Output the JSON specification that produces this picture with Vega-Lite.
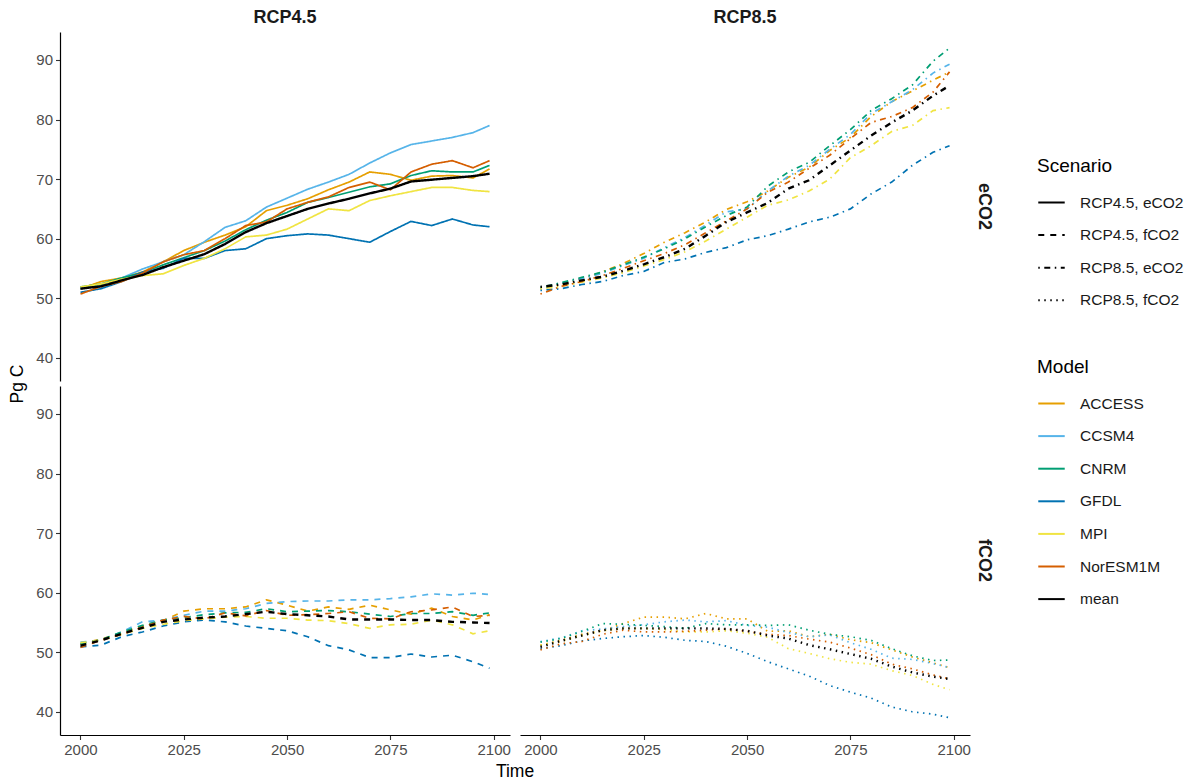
{
"$schema":"https://vega.github.io/schema/vega-lite/v6.json",
"background":"white",
"padding":{"left":8,"top":9,"right":5,"bottom":0},
"data":{"values":[
{"m":"ACCESS","r":"RCP4.5","c":"eCO2","t":2000,"v":51.6},{"m":"ACCESS","r":"RCP4.5","c":"eCO2","t":2005,"v":52.8},{"m":"ACCESS","r":"RCP4.5","c":"eCO2","t":2010,"v":53.4},{"m":"ACCESS","r":"RCP4.5","c":"eCO2","t":2015,"v":54.4},{"m":"ACCESS","r":"RCP4.5","c":"eCO2","t":2020,"v":56.1},{"m":"ACCESS","r":"RCP4.5","c":"eCO2","t":2025,"v":58.0},{"m":"ACCESS","r":"RCP4.5","c":"eCO2","t":2030,"v":59.4},{"m":"ACCESS","r":"RCP4.5","c":"eCO2","t":2035,"v":60.6},{"m":"ACCESS","r":"RCP4.5","c":"eCO2","t":2040,"v":62.0},{"m":"ACCESS","r":"RCP4.5","c":"eCO2","t":2045,"v":64.7},{"m":"ACCESS","r":"RCP4.5","c":"eCO2","t":2050,"v":65.6},{"m":"ACCESS","r":"RCP4.5","c":"eCO2","t":2055,"v":66.7},{"m":"ACCESS","r":"RCP4.5","c":"eCO2","t":2060,"v":68.2},{"m":"ACCESS","r":"RCP4.5","c":"eCO2","t":2065,"v":69.5},{"m":"ACCESS","r":"RCP4.5","c":"eCO2","t":2070,"v":71.2},{"m":"ACCESS","r":"RCP4.5","c":"eCO2","t":2075,"v":70.8},{"m":"ACCESS","r":"RCP4.5","c":"eCO2","t":2080,"v":69.8},{"m":"ACCESS","r":"RCP4.5","c":"eCO2","t":2085,"v":70.5},{"m":"ACCESS","r":"RCP4.5","c":"eCO2","t":2090,"v":70.6},{"m":"ACCESS","r":"RCP4.5","c":"eCO2","t":2095,"v":70.2},{"m":"ACCESS","r":"RCP4.5","c":"eCO2","t":2099,"v":71.7},
{"m":"CCSM4","r":"RCP4.5","c":"eCO2","t":2000,"v":51.6},{"m":"CCSM4","r":"RCP4.5","c":"eCO2","t":2005,"v":52.3},{"m":"CCSM4","r":"RCP4.5","c":"eCO2","t":2010,"v":53.4},{"m":"CCSM4","r":"RCP4.5","c":"eCO2","t":2015,"v":54.9},{"m":"CCSM4","r":"RCP4.5","c":"eCO2","t":2020,"v":56.1},{"m":"CCSM4","r":"RCP4.5","c":"eCO2","t":2025,"v":57.3},{"m":"CCSM4","r":"RCP4.5","c":"eCO2","t":2030,"v":59.5},{"m":"CCSM4","r":"RCP4.5","c":"eCO2","t":2035,"v":61.9},{"m":"CCSM4","r":"RCP4.5","c":"eCO2","t":2040,"v":63.0},{"m":"CCSM4","r":"RCP4.5","c":"eCO2","t":2045,"v":65.3},{"m":"CCSM4","r":"RCP4.5","c":"eCO2","t":2050,"v":66.8},{"m":"CCSM4","r":"RCP4.5","c":"eCO2","t":2055,"v":68.3},{"m":"CCSM4","r":"RCP4.5","c":"eCO2","t":2060,"v":69.5},{"m":"CCSM4","r":"RCP4.5","c":"eCO2","t":2065,"v":70.8},{"m":"CCSM4","r":"RCP4.5","c":"eCO2","t":2070,"v":72.7},{"m":"CCSM4","r":"RCP4.5","c":"eCO2","t":2075,"v":74.4},{"m":"CCSM4","r":"RCP4.5","c":"eCO2","t":2080,"v":75.8},{"m":"CCSM4","r":"RCP4.5","c":"eCO2","t":2085,"v":76.4},{"m":"CCSM4","r":"RCP4.5","c":"eCO2","t":2090,"v":77.0},{"m":"CCSM4","r":"RCP4.5","c":"eCO2","t":2095,"v":77.8},{"m":"CCSM4","r":"RCP4.5","c":"eCO2","t":2099,"v":79.0},
{"m":"CNRM","r":"RCP4.5","c":"eCO2","t":2000,"v":51.9},{"m":"CNRM","r":"RCP4.5","c":"eCO2","t":2005,"v":52.4},{"m":"CNRM","r":"RCP4.5","c":"eCO2","t":2010,"v":53.4},{"m":"CNRM","r":"RCP4.5","c":"eCO2","t":2015,"v":54.3},{"m":"CNRM","r":"RCP4.5","c":"eCO2","t":2020,"v":55.6},{"m":"CNRM","r":"RCP4.5","c":"eCO2","t":2025,"v":56.8},{"m":"CNRM","r":"RCP4.5","c":"eCO2","t":2030,"v":58.0},{"m":"CNRM","r":"RCP4.5","c":"eCO2","t":2035,"v":59.6},{"m":"CNRM","r":"RCP4.5","c":"eCO2","t":2040,"v":61.5},{"m":"CNRM","r":"RCP4.5","c":"eCO2","t":2045,"v":63.1},{"m":"CNRM","r":"RCP4.5","c":"eCO2","t":2050,"v":64.4},{"m":"CNRM","r":"RCP4.5","c":"eCO2","t":2055,"v":66.1},{"m":"CNRM","r":"RCP4.5","c":"eCO2","t":2060,"v":66.9},{"m":"CNRM","r":"RCP4.5","c":"eCO2","t":2065,"v":67.8},{"m":"CNRM","r":"RCP4.5","c":"eCO2","t":2070,"v":68.7},{"m":"CNRM","r":"RCP4.5","c":"eCO2","t":2075,"v":69.2},{"m":"CNRM","r":"RCP4.5","c":"eCO2","t":2080,"v":70.6},{"m":"CNRM","r":"RCP4.5","c":"eCO2","t":2085,"v":71.4},{"m":"CNRM","r":"RCP4.5","c":"eCO2","t":2090,"v":71.2},{"m":"CNRM","r":"RCP4.5","c":"eCO2","t":2095,"v":71.2},{"m":"CNRM","r":"RCP4.5","c":"eCO2","t":2099,"v":72.3},
{"m":"GFDL","r":"RCP4.5","c":"eCO2","t":2000,"v":51.0},{"m":"GFDL","r":"RCP4.5","c":"eCO2","t":2005,"v":51.6},{"m":"GFDL","r":"RCP4.5","c":"eCO2","t":2010,"v":52.8},{"m":"GFDL","r":"RCP4.5","c":"eCO2","t":2015,"v":54.4},{"m":"GFDL","r":"RCP4.5","c":"eCO2","t":2020,"v":55.0},{"m":"GFDL","r":"RCP4.5","c":"eCO2","t":2025,"v":56.7},{"m":"GFDL","r":"RCP4.5","c":"eCO2","t":2030,"v":56.7},{"m":"GFDL","r":"RCP4.5","c":"eCO2","t":2035,"v":58.0},{"m":"GFDL","r":"RCP4.5","c":"eCO2","t":2040,"v":58.3},{"m":"GFDL","r":"RCP4.5","c":"eCO2","t":2045,"v":60.0},{"m":"GFDL","r":"RCP4.5","c":"eCO2","t":2050,"v":60.5},{"m":"GFDL","r":"RCP4.5","c":"eCO2","t":2055,"v":60.8},{"m":"GFDL","r":"RCP4.5","c":"eCO2","t":2060,"v":60.6},{"m":"GFDL","r":"RCP4.5","c":"eCO2","t":2065,"v":60.0},{"m":"GFDL","r":"RCP4.5","c":"eCO2","t":2070,"v":59.4},{"m":"GFDL","r":"RCP4.5","c":"eCO2","t":2075,"v":61.2},{"m":"GFDL","r":"RCP4.5","c":"eCO2","t":2080,"v":62.9},{"m":"GFDL","r":"RCP4.5","c":"eCO2","t":2085,"v":62.2},{"m":"GFDL","r":"RCP4.5","c":"eCO2","t":2090,"v":63.3},{"m":"GFDL","r":"RCP4.5","c":"eCO2","t":2095,"v":62.3},{"m":"GFDL","r":"RCP4.5","c":"eCO2","t":2099,"v":62.0},
{"m":"MPI","r":"RCP4.5","c":"eCO2","t":2000,"v":51.9},{"m":"MPI","r":"RCP4.5","c":"eCO2","t":2005,"v":52.4},{"m":"MPI","r":"RCP4.5","c":"eCO2","t":2010,"v":53.2},{"m":"MPI","r":"RCP4.5","c":"eCO2","t":2015,"v":53.8},{"m":"MPI","r":"RCP4.5","c":"eCO2","t":2020,"v":54.1},{"m":"MPI","r":"RCP4.5","c":"eCO2","t":2025,"v":55.5},{"m":"MPI","r":"RCP4.5","c":"eCO2","t":2030,"v":56.7},{"m":"MPI","r":"RCP4.5","c":"eCO2","t":2035,"v":58.3},{"m":"MPI","r":"RCP4.5","c":"eCO2","t":2040,"v":60.3},{"m":"MPI","r":"RCP4.5","c":"eCO2","t":2045,"v":60.6},{"m":"MPI","r":"RCP4.5","c":"eCO2","t":2050,"v":61.6},{"m":"MPI","r":"RCP4.5","c":"eCO2","t":2055,"v":63.3},{"m":"MPI","r":"RCP4.5","c":"eCO2","t":2060,"v":65.0},{"m":"MPI","r":"RCP4.5","c":"eCO2","t":2065,"v":64.7},{"m":"MPI","r":"RCP4.5","c":"eCO2","t":2070,"v":66.4},{"m":"MPI","r":"RCP4.5","c":"eCO2","t":2075,"v":67.2},{"m":"MPI","r":"RCP4.5","c":"eCO2","t":2080,"v":67.9},{"m":"MPI","r":"RCP4.5","c":"eCO2","t":2085,"v":68.6},{"m":"MPI","r":"RCP4.5","c":"eCO2","t":2090,"v":68.6},{"m":"MPI","r":"RCP4.5","c":"eCO2","t":2095,"v":68.1},{"m":"MPI","r":"RCP4.5","c":"eCO2","t":2099,"v":67.9},
{"m":"NorESM1M","r":"RCP4.5","c":"eCO2","t":2000,"v":50.7},{"m":"NorESM1M","r":"RCP4.5","c":"eCO2","t":2005,"v":52.0},{"m":"NorESM1M","r":"RCP4.5","c":"eCO2","t":2010,"v":52.8},{"m":"NorESM1M","r":"RCP4.5","c":"eCO2","t":2015,"v":54.2},{"m":"NorESM1M","r":"RCP4.5","c":"eCO2","t":2020,"v":56.1},{"m":"NorESM1M","r":"RCP4.5","c":"eCO2","t":2025,"v":57.3},{"m":"NorESM1M","r":"RCP4.5","c":"eCO2","t":2030,"v":58.0},{"m":"NorESM1M","r":"RCP4.5","c":"eCO2","t":2035,"v":60.0},{"m":"NorESM1M","r":"RCP4.5","c":"eCO2","t":2040,"v":62.2},{"m":"NorESM1M","r":"RCP4.5","c":"eCO2","t":2045,"v":62.8},{"m":"NorESM1M","r":"RCP4.5","c":"eCO2","t":2050,"v":65.0},{"m":"NorESM1M","r":"RCP4.5","c":"eCO2","t":2055,"v":66.1},{"m":"NorESM1M","r":"RCP4.5","c":"eCO2","t":2060,"v":67.0},{"m":"NorESM1M","r":"RCP4.5","c":"eCO2","t":2065,"v":68.6},{"m":"NorESM1M","r":"RCP4.5","c":"eCO2","t":2070,"v":69.5},{"m":"NorESM1M","r":"RCP4.5","c":"eCO2","t":2075,"v":68.2},{"m":"NorESM1M","r":"RCP4.5","c":"eCO2","t":2080,"v":71.2},{"m":"NorESM1M","r":"RCP4.5","c":"eCO2","t":2085,"v":72.5},{"m":"NorESM1M","r":"RCP4.5","c":"eCO2","t":2090,"v":73.1},{"m":"NorESM1M","r":"RCP4.5","c":"eCO2","t":2095,"v":71.9},{"m":"NorESM1M","r":"RCP4.5","c":"eCO2","t":2099,"v":73.1},
{"m":"mean","r":"RCP4.5","c":"eCO2","t":2000,"v":51.6},{"m":"mean","r":"RCP4.5","c":"eCO2","t":2005,"v":52.0},{"m":"mean","r":"RCP4.5","c":"eCO2","t":2010,"v":53.0},{"m":"mean","r":"RCP4.5","c":"eCO2","t":2015,"v":53.9},{"m":"mean","r":"RCP4.5","c":"eCO2","t":2020,"v":55.2},{"m":"mean","r":"RCP4.5","c":"eCO2","t":2025,"v":56.3},{"m":"mean","r":"RCP4.5","c":"eCO2","t":2030,"v":57.4},{"m":"mean","r":"RCP4.5","c":"eCO2","t":2035,"v":59.1},{"m":"mean","r":"RCP4.5","c":"eCO2","t":2040,"v":61.1},{"m":"mean","r":"RCP4.5","c":"eCO2","t":2045,"v":62.6},{"m":"mean","r":"RCP4.5","c":"eCO2","t":2050,"v":63.8},{"m":"mean","r":"RCP4.5","c":"eCO2","t":2055,"v":65.0},{"m":"mean","r":"RCP4.5","c":"eCO2","t":2060,"v":65.9},{"m":"mean","r":"RCP4.5","c":"eCO2","t":2065,"v":66.7},{"m":"mean","r":"RCP4.5","c":"eCO2","t":2070,"v":67.6},{"m":"mean","r":"RCP4.5","c":"eCO2","t":2075,"v":68.4},{"m":"mean","r":"RCP4.5","c":"eCO2","t":2080,"v":69.6},{"m":"mean","r":"RCP4.5","c":"eCO2","t":2085,"v":69.9},{"m":"mean","r":"RCP4.5","c":"eCO2","t":2090,"v":70.2},{"m":"mean","r":"RCP4.5","c":"eCO2","t":2095,"v":70.5},{"m":"mean","r":"RCP4.5","c":"eCO2","t":2099,"v":70.9},
{"m":"ACCESS","r":"RCP8.5","c":"eCO2","t":2000,"v":51.5},{"m":"ACCESS","r":"RCP8.5","c":"eCO2","t":2005,"v":52.4},{"m":"ACCESS","r":"RCP8.5","c":"eCO2","t":2010,"v":53.3},{"m":"ACCESS","r":"RCP8.5","c":"eCO2","t":2015,"v":54.4},{"m":"ACCESS","r":"RCP8.5","c":"eCO2","t":2020,"v":55.8},{"m":"ACCESS","r":"RCP8.5","c":"eCO2","t":2025,"v":57.5},{"m":"ACCESS","r":"RCP8.5","c":"eCO2","t":2030,"v":59.4},{"m":"ACCESS","r":"RCP8.5","c":"eCO2","t":2035,"v":61.0},{"m":"ACCESS","r":"RCP8.5","c":"eCO2","t":2040,"v":62.8},{"m":"ACCESS","r":"RCP8.5","c":"eCO2","t":2045,"v":64.9},{"m":"ACCESS","r":"RCP8.5","c":"eCO2","t":2050,"v":66.2},{"m":"ACCESS","r":"RCP8.5","c":"eCO2","t":2055,"v":68.0},{"m":"ACCESS","r":"RCP8.5","c":"eCO2","t":2060,"v":70.3},{"m":"ACCESS","r":"RCP8.5","c":"eCO2","t":2065,"v":72.0},{"m":"ACCESS","r":"RCP8.5","c":"eCO2","t":2070,"v":74.8},{"m":"ACCESS","r":"RCP8.5","c":"eCO2","t":2075,"v":77.0},{"m":"ACCESS","r":"RCP8.5","c":"eCO2","t":2080,"v":80.5},{"m":"ACCESS","r":"RCP8.5","c":"eCO2","t":2085,"v":83.0},{"m":"ACCESS","r":"RCP8.5","c":"eCO2","t":2090,"v":84.8},{"m":"ACCESS","r":"RCP8.5","c":"eCO2","t":2095,"v":86.6},{"m":"ACCESS","r":"RCP8.5","c":"eCO2","t":2099,"v":88.0},
{"m":"CCSM4","r":"RCP8.5","c":"eCO2","t":2000,"v":51.6},{"m":"CCSM4","r":"RCP8.5","c":"eCO2","t":2005,"v":52.5},{"m":"CCSM4","r":"RCP8.5","c":"eCO2","t":2010,"v":53.3},{"m":"CCSM4","r":"RCP8.5","c":"eCO2","t":2015,"v":54.2},{"m":"CCSM4","r":"RCP8.5","c":"eCO2","t":2020,"v":55.5},{"m":"CCSM4","r":"RCP8.5","c":"eCO2","t":2025,"v":56.7},{"m":"CCSM4","r":"RCP8.5","c":"eCO2","t":2030,"v":58.5},{"m":"CCSM4","r":"RCP8.5","c":"eCO2","t":2035,"v":60.2},{"m":"CCSM4","r":"RCP8.5","c":"eCO2","t":2040,"v":62.3},{"m":"CCSM4","r":"RCP8.5","c":"eCO2","t":2045,"v":64.5},{"m":"CCSM4","r":"RCP8.5","c":"eCO2","t":2050,"v":65.0},{"m":"CCSM4","r":"RCP8.5","c":"eCO2","t":2055,"v":68.0},{"m":"CCSM4","r":"RCP8.5","c":"eCO2","t":2060,"v":70.5},{"m":"CCSM4","r":"RCP8.5","c":"eCO2","t":2065,"v":72.3},{"m":"CCSM4","r":"RCP8.5","c":"eCO2","t":2070,"v":75.0},{"m":"CCSM4","r":"RCP8.5","c":"eCO2","t":2075,"v":77.5},{"m":"CCSM4","r":"RCP8.5","c":"eCO2","t":2080,"v":81.0},{"m":"CCSM4","r":"RCP8.5","c":"eCO2","t":2085,"v":83.0},{"m":"CCSM4","r":"RCP8.5","c":"eCO2","t":2090,"v":85.0},{"m":"CCSM4","r":"RCP8.5","c":"eCO2","t":2095,"v":87.8},{"m":"CCSM4","r":"RCP8.5","c":"eCO2","t":2099,"v":89.3},
{"m":"CNRM","r":"RCP8.5","c":"eCO2","t":2000,"v":51.8},{"m":"CNRM","r":"RCP8.5","c":"eCO2","t":2005,"v":52.6},{"m":"CNRM","r":"RCP8.5","c":"eCO2","t":2010,"v":53.5},{"m":"CNRM","r":"RCP8.5","c":"eCO2","t":2015,"v":54.4},{"m":"CNRM","r":"RCP8.5","c":"eCO2","t":2020,"v":55.6},{"m":"CNRM","r":"RCP8.5","c":"eCO2","t":2025,"v":56.9},{"m":"CNRM","r":"RCP8.5","c":"eCO2","t":2030,"v":58.3},{"m":"CNRM","r":"RCP8.5","c":"eCO2","t":2035,"v":60.0},{"m":"CNRM","r":"RCP8.5","c":"eCO2","t":2040,"v":62.0},{"m":"CNRM","r":"RCP8.5","c":"eCO2","t":2045,"v":63.9},{"m":"CNRM","r":"RCP8.5","c":"eCO2","t":2050,"v":65.3},{"m":"CNRM","r":"RCP8.5","c":"eCO2","t":2055,"v":68.8},{"m":"CNRM","r":"RCP8.5","c":"eCO2","t":2060,"v":71.2},{"m":"CNRM","r":"RCP8.5","c":"eCO2","t":2065,"v":72.8},{"m":"CNRM","r":"RCP8.5","c":"eCO2","t":2070,"v":75.6},{"m":"CNRM","r":"RCP8.5","c":"eCO2","t":2075,"v":78.3},{"m":"CNRM","r":"RCP8.5","c":"eCO2","t":2080,"v":81.5},{"m":"CNRM","r":"RCP8.5","c":"eCO2","t":2085,"v":83.5},{"m":"CNRM","r":"RCP8.5","c":"eCO2","t":2090,"v":85.8},{"m":"CNRM","r":"RCP8.5","c":"eCO2","t":2095,"v":89.8},{"m":"CNRM","r":"RCP8.5","c":"eCO2","t":2099,"v":92.0},
{"m":"GFDL","r":"RCP8.5","c":"eCO2","t":2000,"v":51.3},{"m":"GFDL","r":"RCP8.5","c":"eCO2","t":2005,"v":51.6},{"m":"GFDL","r":"RCP8.5","c":"eCO2","t":2010,"v":52.3},{"m":"GFDL","r":"RCP8.5","c":"eCO2","t":2015,"v":52.8},{"m":"GFDL","r":"RCP8.5","c":"eCO2","t":2020,"v":53.8},{"m":"GFDL","r":"RCP8.5","c":"eCO2","t":2025,"v":54.5},{"m":"GFDL","r":"RCP8.5","c":"eCO2","t":2030,"v":56.0},{"m":"GFDL","r":"RCP8.5","c":"eCO2","t":2035,"v":56.6},{"m":"GFDL","r":"RCP8.5","c":"eCO2","t":2040,"v":57.7},{"m":"GFDL","r":"RCP8.5","c":"eCO2","t":2045,"v":58.5},{"m":"GFDL","r":"RCP8.5","c":"eCO2","t":2050,"v":59.8},{"m":"GFDL","r":"RCP8.5","c":"eCO2","t":2055,"v":60.5},{"m":"GFDL","r":"RCP8.5","c":"eCO2","t":2060,"v":61.6},{"m":"GFDL","r":"RCP8.5","c":"eCO2","t":2065,"v":62.8},{"m":"GFDL","r":"RCP8.5","c":"eCO2","t":2070,"v":63.6},{"m":"GFDL","r":"RCP8.5","c":"eCO2","t":2075,"v":65.0},{"m":"GFDL","r":"RCP8.5","c":"eCO2","t":2080,"v":67.5},{"m":"GFDL","r":"RCP8.5","c":"eCO2","t":2085,"v":69.5},{"m":"GFDL","r":"RCP8.5","c":"eCO2","t":2090,"v":72.3},{"m":"GFDL","r":"RCP8.5","c":"eCO2","t":2095,"v":74.5},{"m":"GFDL","r":"RCP8.5","c":"eCO2","t":2099,"v":75.6},
{"m":"MPI","r":"RCP8.5","c":"eCO2","t":2000,"v":51.6},{"m":"MPI","r":"RCP8.5","c":"eCO2","t":2005,"v":52.0},{"m":"MPI","r":"RCP8.5","c":"eCO2","t":2010,"v":52.7},{"m":"MPI","r":"RCP8.5","c":"eCO2","t":2015,"v":53.4},{"m":"MPI","r":"RCP8.5","c":"eCO2","t":2020,"v":54.3},{"m":"MPI","r":"RCP8.5","c":"eCO2","t":2025,"v":55.4},{"m":"MPI","r":"RCP8.5","c":"eCO2","t":2030,"v":56.5},{"m":"MPI","r":"RCP8.5","c":"eCO2","t":2035,"v":57.8},{"m":"MPI","r":"RCP8.5","c":"eCO2","t":2040,"v":59.6},{"m":"MPI","r":"RCP8.5","c":"eCO2","t":2045,"v":61.6},{"m":"MPI","r":"RCP8.5","c":"eCO2","t":2050,"v":63.6},{"m":"MPI","r":"RCP8.5","c":"eCO2","t":2055,"v":65.6},{"m":"MPI","r":"RCP8.5","c":"eCO2","t":2060,"v":66.5},{"m":"MPI","r":"RCP8.5","c":"eCO2","t":2065,"v":68.0},{"m":"MPI","r":"RCP8.5","c":"eCO2","t":2070,"v":70.0},{"m":"MPI","r":"RCP8.5","c":"eCO2","t":2075,"v":73.6},{"m":"MPI","r":"RCP8.5","c":"eCO2","t":2080,"v":75.6},{"m":"MPI","r":"RCP8.5","c":"eCO2","t":2085,"v":78.0},{"m":"MPI","r":"RCP8.5","c":"eCO2","t":2090,"v":79.0},{"m":"MPI","r":"RCP8.5","c":"eCO2","t":2095,"v":81.5},{"m":"MPI","r":"RCP8.5","c":"eCO2","t":2099,"v":82.0},
{"m":"NorESM1M","r":"RCP8.5","c":"eCO2","t":2000,"v":50.7},{"m":"NorESM1M","r":"RCP8.5","c":"eCO2","t":2005,"v":52.0},{"m":"NorESM1M","r":"RCP8.5","c":"eCO2","t":2010,"v":52.8},{"m":"NorESM1M","r":"RCP8.5","c":"eCO2","t":2015,"v":53.8},{"m":"NorESM1M","r":"RCP8.5","c":"eCO2","t":2020,"v":55.0},{"m":"NorESM1M","r":"RCP8.5","c":"eCO2","t":2025,"v":56.3},{"m":"NorESM1M","r":"RCP8.5","c":"eCO2","t":2030,"v":57.5},{"m":"NorESM1M","r":"RCP8.5","c":"eCO2","t":2035,"v":59.0},{"m":"NorESM1M","r":"RCP8.5","c":"eCO2","t":2040,"v":61.0},{"m":"NorESM1M","r":"RCP8.5","c":"eCO2","t":2045,"v":63.0},{"m":"NorESM1M","r":"RCP8.5","c":"eCO2","t":2050,"v":65.0},{"m":"NorESM1M","r":"RCP8.5","c":"eCO2","t":2055,"v":67.8},{"m":"NorESM1M","r":"RCP8.5","c":"eCO2","t":2060,"v":69.5},{"m":"NorESM1M","r":"RCP8.5","c":"eCO2","t":2065,"v":71.8},{"m":"NorESM1M","r":"RCP8.5","c":"eCO2","t":2070,"v":74.0},{"m":"NorESM1M","r":"RCP8.5","c":"eCO2","t":2075,"v":76.8},{"m":"NorESM1M","r":"RCP8.5","c":"eCO2","t":2080,"v":79.5},{"m":"NorESM1M","r":"RCP8.5","c":"eCO2","t":2085,"v":80.5},{"m":"NorESM1M","r":"RCP8.5","c":"eCO2","t":2090,"v":82.0},{"m":"NorESM1M","r":"RCP8.5","c":"eCO2","t":2095,"v":84.6},{"m":"NorESM1M","r":"RCP8.5","c":"eCO2","t":2099,"v":88.0},
{"m":"mean","r":"RCP8.5","c":"eCO2","t":2000,"v":51.9},{"m":"mean","r":"RCP8.5","c":"eCO2","t":2005,"v":52.3},{"m":"mean","r":"RCP8.5","c":"eCO2","t":2010,"v":53.0},{"m":"mean","r":"RCP8.5","c":"eCO2","t":2015,"v":53.6},{"m":"mean","r":"RCP8.5","c":"eCO2","t":2020,"v":54.6},{"m":"mean","r":"RCP8.5","c":"eCO2","t":2025,"v":55.7},{"m":"mean","r":"RCP8.5","c":"eCO2","t":2030,"v":56.9},{"m":"mean","r":"RCP8.5","c":"eCO2","t":2035,"v":58.3},{"m":"mean","r":"RCP8.5","c":"eCO2","t":2040,"v":60.5},{"m":"mean","r":"RCP8.5","c":"eCO2","t":2045,"v":62.8},{"m":"mean","r":"RCP8.5","c":"eCO2","t":2050,"v":64.4},{"m":"mean","r":"RCP8.5","c":"eCO2","t":2055,"v":66.0},{"m":"mean","r":"RCP8.5","c":"eCO2","t":2060,"v":68.4},{"m":"mean","r":"RCP8.5","c":"eCO2","t":2065,"v":69.8},{"m":"mean","r":"RCP8.5","c":"eCO2","t":2070,"v":72.3},{"m":"mean","r":"RCP8.5","c":"eCO2","t":2075,"v":74.8},{"m":"mean","r":"RCP8.5","c":"eCO2","t":2080,"v":77.3},{"m":"mean","r":"RCP8.5","c":"eCO2","t":2085,"v":79.5},{"m":"mean","r":"RCP8.5","c":"eCO2","t":2090,"v":81.5},{"m":"mean","r":"RCP8.5","c":"eCO2","t":2095,"v":84.0},{"m":"mean","r":"RCP8.5","c":"eCO2","t":2099,"v":85.7},
{"m":"ACCESS","r":"RCP4.5","c":"fCO2","t":2000,"v":51.4},{"m":"ACCESS","r":"RCP4.5","c":"fCO2","t":2005,"v":52.2},{"m":"ACCESS","r":"RCP4.5","c":"fCO2","t":2010,"v":53.3},{"m":"ACCESS","r":"RCP4.5","c":"fCO2","t":2015,"v":54.4},{"m":"ACCESS","r":"RCP4.5","c":"fCO2","t":2020,"v":55.3},{"m":"ACCESS","r":"RCP4.5","c":"fCO2","t":2025,"v":56.9},{"m":"ACCESS","r":"RCP4.5","c":"fCO2","t":2030,"v":57.3},{"m":"ACCESS","r":"RCP4.5","c":"fCO2","t":2035,"v":57.3},{"m":"ACCESS","r":"RCP4.5","c":"fCO2","t":2040,"v":57.6},{"m":"ACCESS","r":"RCP4.5","c":"fCO2","t":2045,"v":58.8},{"m":"ACCESS","r":"RCP4.5","c":"fCO2","t":2050,"v":57.9},{"m":"ACCESS","r":"RCP4.5","c":"fCO2","t":2055,"v":56.9},{"m":"ACCESS","r":"RCP4.5","c":"fCO2","t":2060,"v":57.6},{"m":"ACCESS","r":"RCP4.5","c":"fCO2","t":2065,"v":57.2},{"m":"ACCESS","r":"RCP4.5","c":"fCO2","t":2070,"v":57.9},{"m":"ACCESS","r":"RCP4.5","c":"fCO2","t":2075,"v":57.1},{"m":"ACCESS","r":"RCP4.5","c":"fCO2","t":2080,"v":56.4},{"m":"ACCESS","r":"RCP4.5","c":"fCO2","t":2085,"v":57.4},{"m":"ACCESS","r":"RCP4.5","c":"fCO2","t":2090,"v":56.0},{"m":"ACCESS","r":"RCP4.5","c":"fCO2","t":2095,"v":55.4},{"m":"ACCESS","r":"RCP4.5","c":"fCO2","t":2099,"v":56.3},
{"m":"CCSM4","r":"RCP4.5","c":"fCO2","t":2000,"v":51.7},{"m":"CCSM4","r":"RCP4.5","c":"fCO2","t":2005,"v":52.0},{"m":"CCSM4","r":"RCP4.5","c":"fCO2","t":2010,"v":53.4},{"m":"CCSM4","r":"RCP4.5","c":"fCO2","t":2015,"v":55.1},{"m":"CCSM4","r":"RCP4.5","c":"fCO2","t":2020,"v":55.4},{"m":"CCSM4","r":"RCP4.5","c":"fCO2","t":2025,"v":56.2},{"m":"CCSM4","r":"RCP4.5","c":"fCO2","t":2030,"v":56.9},{"m":"CCSM4","r":"RCP4.5","c":"fCO2","t":2035,"v":56.9},{"m":"CCSM4","r":"RCP4.5","c":"fCO2","t":2040,"v":57.3},{"m":"CCSM4","r":"RCP4.5","c":"fCO2","t":2045,"v":58.2},{"m":"CCSM4","r":"RCP4.5","c":"fCO2","t":2050,"v":58.5},{"m":"CCSM4","r":"RCP4.5","c":"fCO2","t":2055,"v":58.6},{"m":"CCSM4","r":"RCP4.5","c":"fCO2","t":2060,"v":58.6},{"m":"CCSM4","r":"RCP4.5","c":"fCO2","t":2065,"v":58.8},{"m":"CCSM4","r":"RCP4.5","c":"fCO2","t":2070,"v":58.8},{"m":"CCSM4","r":"RCP4.5","c":"fCO2","t":2075,"v":59.0},{"m":"CCSM4","r":"RCP4.5","c":"fCO2","t":2080,"v":59.3},{"m":"CCSM4","r":"RCP4.5","c":"fCO2","t":2085,"v":59.8},{"m":"CCSM4","r":"RCP4.5","c":"fCO2","t":2090,"v":59.6},{"m":"CCSM4","r":"RCP4.5","c":"fCO2","t":2095,"v":59.9},{"m":"CCSM4","r":"RCP4.5","c":"fCO2","t":2099,"v":59.7},
{"m":"CNRM","r":"RCP4.5","c":"fCO2","t":2000,"v":51.4},{"m":"CNRM","r":"RCP4.5","c":"fCO2","t":2005,"v":52.1},{"m":"CNRM","r":"RCP4.5","c":"fCO2","t":2010,"v":53.4},{"m":"CNRM","r":"RCP4.5","c":"fCO2","t":2015,"v":54.5},{"m":"CNRM","r":"RCP4.5","c":"fCO2","t":2020,"v":55.4},{"m":"CNRM","r":"RCP4.5","c":"fCO2","t":2025,"v":55.8},{"m":"CNRM","r":"RCP4.5","c":"fCO2","t":2030,"v":56.3},{"m":"CNRM","r":"RCP4.5","c":"fCO2","t":2035,"v":56.6},{"m":"CNRM","r":"RCP4.5","c":"fCO2","t":2040,"v":56.7},{"m":"CNRM","r":"RCP4.5","c":"fCO2","t":2045,"v":57.3},{"m":"CNRM","r":"RCP4.5","c":"fCO2","t":2050,"v":56.8},{"m":"CNRM","r":"RCP4.5","c":"fCO2","t":2055,"v":56.9},{"m":"CNRM","r":"RCP4.5","c":"fCO2","t":2060,"v":57.0},{"m":"CNRM","r":"RCP4.5","c":"fCO2","t":2065,"v":56.8},{"m":"CNRM","r":"RCP4.5","c":"fCO2","t":2070,"v":56.4},{"m":"CNRM","r":"RCP4.5","c":"fCO2","t":2075,"v":56.0},{"m":"CNRM","r":"RCP4.5","c":"fCO2","t":2080,"v":56.5},{"m":"CNRM","r":"RCP4.5","c":"fCO2","t":2085,"v":56.5},{"m":"CNRM","r":"RCP4.5","c":"fCO2","t":2090,"v":56.8},{"m":"CNRM","r":"RCP4.5","c":"fCO2","t":2095,"v":56.2},{"m":"CNRM","r":"RCP4.5","c":"fCO2","t":2099,"v":56.6},
{"m":"GFDL","r":"RCP4.5","c":"fCO2","t":2000,"v":50.9},{"m":"GFDL","r":"RCP4.5","c":"fCO2","t":2005,"v":51.2},{"m":"GFDL","r":"RCP4.5","c":"fCO2","t":2010,"v":52.6},{"m":"GFDL","r":"RCP4.5","c":"fCO2","t":2015,"v":53.4},{"m":"GFDL","r":"RCP4.5","c":"fCO2","t":2020,"v":54.4},{"m":"GFDL","r":"RCP4.5","c":"fCO2","t":2025,"v":55.1},{"m":"GFDL","r":"RCP4.5","c":"fCO2","t":2030,"v":55.4},{"m":"GFDL","r":"RCP4.5","c":"fCO2","t":2035,"v":55.1},{"m":"GFDL","r":"RCP4.5","c":"fCO2","t":2040,"v":54.4},{"m":"GFDL","r":"RCP4.5","c":"fCO2","t":2045,"v":54.0},{"m":"GFDL","r":"RCP4.5","c":"fCO2","t":2050,"v":53.6},{"m":"GFDL","r":"RCP4.5","c":"fCO2","t":2055,"v":52.6},{"m":"GFDL","r":"RCP4.5","c":"fCO2","t":2060,"v":51.1},{"m":"GFDL","r":"RCP4.5","c":"fCO2","t":2065,"v":50.4},{"m":"GFDL","r":"RCP4.5","c":"fCO2","t":2070,"v":49.1},{"m":"GFDL","r":"RCP4.5","c":"fCO2","t":2075,"v":49.1},{"m":"GFDL","r":"RCP4.5","c":"fCO2","t":2080,"v":49.7},{"m":"GFDL","r":"RCP4.5","c":"fCO2","t":2085,"v":49.2},{"m":"GFDL","r":"RCP4.5","c":"fCO2","t":2090,"v":49.5},{"m":"GFDL","r":"RCP4.5","c":"fCO2","t":2095,"v":48.4},{"m":"GFDL","r":"RCP4.5","c":"fCO2","t":2099,"v":47.3},
{"m":"MPI","r":"RCP4.5","c":"fCO2","t":2000,"v":51.6},{"m":"MPI","r":"RCP4.5","c":"fCO2","t":2005,"v":52.0},{"m":"MPI","r":"RCP4.5","c":"fCO2","t":2010,"v":53.0},{"m":"MPI","r":"RCP4.5","c":"fCO2","t":2015,"v":54.0},{"m":"MPI","r":"RCP4.5","c":"fCO2","t":2020,"v":54.7},{"m":"MPI","r":"RCP4.5","c":"fCO2","t":2025,"v":55.3},{"m":"MPI","r":"RCP4.5","c":"fCO2","t":2030,"v":55.6},{"m":"MPI","r":"RCP4.5","c":"fCO2","t":2035,"v":55.9},{"m":"MPI","r":"RCP4.5","c":"fCO2","t":2040,"v":56.0},{"m":"MPI","r":"RCP4.5","c":"fCO2","t":2045,"v":55.7},{"m":"MPI","r":"RCP4.5","c":"fCO2","t":2050,"v":55.7},{"m":"MPI","r":"RCP4.5","c":"fCO2","t":2055,"v":55.4},{"m":"MPI","r":"RCP4.5","c":"fCO2","t":2060,"v":55.3},{"m":"MPI","r":"RCP4.5","c":"fCO2","t":2065,"v":54.8},{"m":"MPI","r":"RCP4.5","c":"fCO2","t":2070,"v":54.0},{"m":"MPI","r":"RCP4.5","c":"fCO2","t":2075,"v":54.6},{"m":"MPI","r":"RCP4.5","c":"fCO2","t":2080,"v":54.7},{"m":"MPI","r":"RCP4.5","c":"fCO2","t":2085,"v":55.4},{"m":"MPI","r":"RCP4.5","c":"fCO2","t":2090,"v":54.6},{"m":"MPI","r":"RCP4.5","c":"fCO2","t":2095,"v":53.1},{"m":"MPI","r":"RCP4.5","c":"fCO2","t":2099,"v":53.6},
{"m":"NorESM1M","r":"RCP4.5","c":"fCO2","t":2000,"v":50.8},{"m":"NorESM1M","r":"RCP4.5","c":"fCO2","t":2005,"v":52.0},{"m":"NorESM1M","r":"RCP4.5","c":"fCO2","t":2010,"v":53.0},{"m":"NorESM1M","r":"RCP4.5","c":"fCO2","t":2015,"v":54.2},{"m":"NorESM1M","r":"RCP4.5","c":"fCO2","t":2020,"v":55.4},{"m":"NorESM1M","r":"RCP4.5","c":"fCO2","t":2025,"v":56.0},{"m":"NorESM1M","r":"RCP4.5","c":"fCO2","t":2030,"v":55.6},{"m":"NorESM1M","r":"RCP4.5","c":"fCO2","t":2035,"v":56.6},{"m":"NorESM1M","r":"RCP4.5","c":"fCO2","t":2040,"v":56.1},{"m":"NorESM1M","r":"RCP4.5","c":"fCO2","t":2045,"v":57.0},{"m":"NorESM1M","r":"RCP4.5","c":"fCO2","t":2050,"v":56.2},{"m":"NorESM1M","r":"RCP4.5","c":"fCO2","t":2055,"v":56.3},{"m":"NorESM1M","r":"RCP4.5","c":"fCO2","t":2060,"v":56.5},{"m":"NorESM1M","r":"RCP4.5","c":"fCO2","t":2065,"v":56.8},{"m":"NorESM1M","r":"RCP4.5","c":"fCO2","t":2070,"v":55.7},{"m":"NorESM1M","r":"RCP4.5","c":"fCO2","t":2075,"v":55.6},{"m":"NorESM1M","r":"RCP4.5","c":"fCO2","t":2080,"v":56.8},{"m":"NorESM1M","r":"RCP4.5","c":"fCO2","t":2085,"v":57.1},{"m":"NorESM1M","r":"RCP4.5","c":"fCO2","t":2090,"v":57.6},{"m":"NorESM1M","r":"RCP4.5","c":"fCO2","t":2095,"v":56.0},{"m":"NorESM1M","r":"RCP4.5","c":"fCO2","t":2099,"v":56.2},
{"m":"mean","r":"RCP4.5","c":"fCO2","t":2000,"v":51.1},{"m":"mean","r":"RCP4.5","c":"fCO2","t":2005,"v":52.0},{"m":"mean","r":"RCP4.5","c":"fCO2","t":2010,"v":53.1},{"m":"mean","r":"RCP4.5","c":"fCO2","t":2015,"v":54.1},{"m":"mean","r":"RCP4.5","c":"fCO2","t":2020,"v":55.1},{"m":"mean","r":"RCP4.5","c":"fCO2","t":2025,"v":55.5},{"m":"mean","r":"RCP4.5","c":"fCO2","t":2030,"v":55.8},{"m":"mean","r":"RCP4.5","c":"fCO2","t":2035,"v":56.0},{"m":"mean","r":"RCP4.5","c":"fCO2","t":2040,"v":56.4},{"m":"mean","r":"RCP4.5","c":"fCO2","t":2045,"v":56.8},{"m":"mean","r":"RCP4.5","c":"fCO2","t":2050,"v":56.4},{"m":"mean","r":"RCP4.5","c":"fCO2","t":2055,"v":56.2},{"m":"mean","r":"RCP4.5","c":"fCO2","t":2060,"v":56.0},{"m":"mean","r":"RCP4.5","c":"fCO2","t":2065,"v":55.5},{"m":"mean","r":"RCP4.5","c":"fCO2","t":2070,"v":55.5},{"m":"mean","r":"RCP4.5","c":"fCO2","t":2075,"v":55.5},{"m":"mean","r":"RCP4.5","c":"fCO2","t":2080,"v":55.4},{"m":"mean","r":"RCP4.5","c":"fCO2","t":2085,"v":55.4},{"m":"mean","r":"RCP4.5","c":"fCO2","t":2090,"v":55.1},{"m":"mean","r":"RCP4.5","c":"fCO2","t":2095,"v":55.0},{"m":"mean","r":"RCP4.5","c":"fCO2","t":2099,"v":54.9},
{"m":"ACCESS","r":"RCP8.5","c":"fCO2","t":2000,"v":51.2},{"m":"ACCESS","r":"RCP8.5","c":"fCO2","t":2005,"v":52.0},{"m":"ACCESS","r":"RCP8.5","c":"fCO2","t":2010,"v":53.0},{"m":"ACCESS","r":"RCP8.5","c":"fCO2","t":2015,"v":53.6},{"m":"ACCESS","r":"RCP8.5","c":"fCO2","t":2020,"v":54.8},{"m":"ACCESS","r":"RCP8.5","c":"fCO2","t":2025,"v":55.9},{"m":"ACCESS","r":"RCP8.5","c":"fCO2","t":2030,"v":55.9},{"m":"ACCESS","r":"RCP8.5","c":"fCO2","t":2035,"v":55.6},{"m":"ACCESS","r":"RCP8.5","c":"fCO2","t":2040,"v":56.5},{"m":"ACCESS","r":"RCP8.5","c":"fCO2","t":2045,"v":55.6},{"m":"ACCESS","r":"RCP8.5","c":"fCO2","t":2050,"v":55.6},{"m":"ACCESS","r":"RCP8.5","c":"fCO2","t":2055,"v":53.5},{"m":"ACCESS","r":"RCP8.5","c":"fCO2","t":2060,"v":53.6},{"m":"ACCESS","r":"RCP8.5","c":"fCO2","t":2065,"v":52.6},{"m":"ACCESS","r":"RCP8.5","c":"fCO2","t":2070,"v":53.0},{"m":"ACCESS","r":"RCP8.5","c":"fCO2","t":2075,"v":52.1},{"m":"ACCESS","r":"RCP8.5","c":"fCO2","t":2080,"v":51.6},{"m":"ACCESS","r":"RCP8.5","c":"fCO2","t":2085,"v":50.4},{"m":"ACCESS","r":"RCP8.5","c":"fCO2","t":2090,"v":49.2},{"m":"ACCESS","r":"RCP8.5","c":"fCO2","t":2095,"v":48.2},{"m":"ACCESS","r":"RCP8.5","c":"fCO2","t":2099,"v":47.4},
{"m":"CCSM4","r":"RCP8.5","c":"fCO2","t":2000,"v":51.8},{"m":"CCSM4","r":"RCP8.5","c":"fCO2","t":2005,"v":52.4},{"m":"CCSM4","r":"RCP8.5","c":"fCO2","t":2010,"v":53.6},{"m":"CCSM4","r":"RCP8.5","c":"fCO2","t":2015,"v":53.9},{"m":"CCSM4","r":"RCP8.5","c":"fCO2","t":2020,"v":54.3},{"m":"CCSM4","r":"RCP8.5","c":"fCO2","t":2025,"v":54.6},{"m":"CCSM4","r":"RCP8.5","c":"fCO2","t":2030,"v":55.1},{"m":"CCSM4","r":"RCP8.5","c":"fCO2","t":2035,"v":55.4},{"m":"CCSM4","r":"RCP8.5","c":"fCO2","t":2040,"v":55.1},{"m":"CCSM4","r":"RCP8.5","c":"fCO2","t":2045,"v":55.3},{"m":"CCSM4","r":"RCP8.5","c":"fCO2","t":2050,"v":54.5},{"m":"CCSM4","r":"RCP8.5","c":"fCO2","t":2055,"v":54.2},{"m":"CCSM4","r":"RCP8.5","c":"fCO2","t":2060,"v":53.3},{"m":"CCSM4","r":"RCP8.5","c":"fCO2","t":2065,"v":52.6},{"m":"CCSM4","r":"RCP8.5","c":"fCO2","t":2070,"v":52.9},{"m":"CCSM4","r":"RCP8.5","c":"fCO2","t":2075,"v":51.6},{"m":"CCSM4","r":"RCP8.5","c":"fCO2","t":2080,"v":50.5},{"m":"CCSM4","r":"RCP8.5","c":"fCO2","t":2085,"v":49.0},{"m":"CCSM4","r":"RCP8.5","c":"fCO2","t":2090,"v":48.8},{"m":"CCSM4","r":"RCP8.5","c":"fCO2","t":2095,"v":48.1},{"m":"CCSM4","r":"RCP8.5","c":"fCO2","t":2099,"v":47.4},
{"m":"CNRM","r":"RCP8.5","c":"fCO2","t":2000,"v":51.7},{"m":"CNRM","r":"RCP8.5","c":"fCO2","t":2005,"v":52.3},{"m":"CNRM","r":"RCP8.5","c":"fCO2","t":2010,"v":53.5},{"m":"CNRM","r":"RCP8.5","c":"fCO2","t":2015,"v":54.8},{"m":"CNRM","r":"RCP8.5","c":"fCO2","t":2020,"v":54.7},{"m":"CNRM","r":"RCP8.5","c":"fCO2","t":2025,"v":54.5},{"m":"CNRM","r":"RCP8.5","c":"fCO2","t":2030,"v":54.3},{"m":"CNRM","r":"RCP8.5","c":"fCO2","t":2035,"v":54.0},{"m":"CNRM","r":"RCP8.5","c":"fCO2","t":2040,"v":54.8},{"m":"CNRM","r":"RCP8.5","c":"fCO2","t":2045,"v":54.6},{"m":"CNRM","r":"RCP8.5","c":"fCO2","t":2050,"v":54.6},{"m":"CNRM","r":"RCP8.5","c":"fCO2","t":2055,"v":54.5},{"m":"CNRM","r":"RCP8.5","c":"fCO2","t":2060,"v":54.6},{"m":"CNRM","r":"RCP8.5","c":"fCO2","t":2065,"v":53.7},{"m":"CNRM","r":"RCP8.5","c":"fCO2","t":2070,"v":53.0},{"m":"CNRM","r":"RCP8.5","c":"fCO2","t":2075,"v":52.6},{"m":"CNRM","r":"RCP8.5","c":"fCO2","t":2080,"v":52.0},{"m":"CNRM","r":"RCP8.5","c":"fCO2","t":2085,"v":50.6},{"m":"CNRM","r":"RCP8.5","c":"fCO2","t":2090,"v":49.4},{"m":"CNRM","r":"RCP8.5","c":"fCO2","t":2095,"v":48.6},{"m":"CNRM","r":"RCP8.5","c":"fCO2","t":2099,"v":48.7},
{"m":"GFDL","r":"RCP8.5","c":"fCO2","t":2000,"v":50.6},{"m":"GFDL","r":"RCP8.5","c":"fCO2","t":2005,"v":51.1},{"m":"GFDL","r":"RCP8.5","c":"fCO2","t":2010,"v":51.9},{"m":"GFDL","r":"RCP8.5","c":"fCO2","t":2015,"v":52.3},{"m":"GFDL","r":"RCP8.5","c":"fCO2","t":2020,"v":52.6},{"m":"GFDL","r":"RCP8.5","c":"fCO2","t":2025,"v":52.8},{"m":"GFDL","r":"RCP8.5","c":"fCO2","t":2030,"v":52.5},{"m":"GFDL","r":"RCP8.5","c":"fCO2","t":2035,"v":52.0},{"m":"GFDL","r":"RCP8.5","c":"fCO2","t":2040,"v":51.8},{"m":"GFDL","r":"RCP8.5","c":"fCO2","t":2045,"v":51.0},{"m":"GFDL","r":"RCP8.5","c":"fCO2","t":2050,"v":49.8},{"m":"GFDL","r":"RCP8.5","c":"fCO2","t":2055,"v":48.4},{"m":"GFDL","r":"RCP8.5","c":"fCO2","t":2060,"v":47.2},{"m":"GFDL","r":"RCP8.5","c":"fCO2","t":2065,"v":46.0},{"m":"GFDL","r":"RCP8.5","c":"fCO2","t":2070,"v":44.4},{"m":"GFDL","r":"RCP8.5","c":"fCO2","t":2075,"v":43.3},{"m":"GFDL","r":"RCP8.5","c":"fCO2","t":2080,"v":42.3},{"m":"GFDL","r":"RCP8.5","c":"fCO2","t":2085,"v":40.8},{"m":"GFDL","r":"RCP8.5","c":"fCO2","t":2090,"v":40.0},{"m":"GFDL","r":"RCP8.5","c":"fCO2","t":2095,"v":39.6},{"m":"GFDL","r":"RCP8.5","c":"fCO2","t":2099,"v":39.0},
{"m":"MPI","r":"RCP8.5","c":"fCO2","t":2000,"v":51.2},{"m":"MPI","r":"RCP8.5","c":"fCO2","t":2005,"v":51.8},{"m":"MPI","r":"RCP8.5","c":"fCO2","t":2010,"v":52.8},{"m":"MPI","r":"RCP8.5","c":"fCO2","t":2015,"v":53.6},{"m":"MPI","r":"RCP8.5","c":"fCO2","t":2020,"v":54.0},{"m":"MPI","r":"RCP8.5","c":"fCO2","t":2025,"v":54.0},{"m":"MPI","r":"RCP8.5","c":"fCO2","t":2030,"v":53.8},{"m":"MPI","r":"RCP8.5","c":"fCO2","t":2035,"v":53.4},{"m":"MPI","r":"RCP8.5","c":"fCO2","t":2040,"v":53.4},{"m":"MPI","r":"RCP8.5","c":"fCO2","t":2045,"v":53.6},{"m":"MPI","r":"RCP8.5","c":"fCO2","t":2050,"v":53.2},{"m":"MPI","r":"RCP8.5","c":"fCO2","t":2055,"v":52.5},{"m":"MPI","r":"RCP8.5","c":"fCO2","t":2060,"v":50.6},{"m":"MPI","r":"RCP8.5","c":"fCO2","t":2065,"v":49.8},{"m":"MPI","r":"RCP8.5","c":"fCO2","t":2070,"v":48.9},{"m":"MPI","r":"RCP8.5","c":"fCO2","t":2075,"v":48.3},{"m":"MPI","r":"RCP8.5","c":"fCO2","t":2080,"v":48.0},{"m":"MPI","r":"RCP8.5","c":"fCO2","t":2085,"v":46.9},{"m":"MPI","r":"RCP8.5","c":"fCO2","t":2090,"v":46.1},{"m":"MPI","r":"RCP8.5","c":"fCO2","t":2095,"v":44.6},{"m":"MPI","r":"RCP8.5","c":"fCO2","t":2099,"v":43.7},
{"m":"NorESM1M","r":"RCP8.5","c":"fCO2","t":2000,"v":50.4},{"m":"NorESM1M","r":"RCP8.5","c":"fCO2","t":2005,"v":51.4},{"m":"NorESM1M","r":"RCP8.5","c":"fCO2","t":2010,"v":51.8},{"m":"NorESM1M","r":"RCP8.5","c":"fCO2","t":2015,"v":53.0},{"m":"NorESM1M","r":"RCP8.5","c":"fCO2","t":2020,"v":53.7},{"m":"NorESM1M","r":"RCP8.5","c":"fCO2","t":2025,"v":53.4},{"m":"NorESM1M","r":"RCP8.5","c":"fCO2","t":2030,"v":53.4},{"m":"NorESM1M","r":"RCP8.5","c":"fCO2","t":2035,"v":53.5},{"m":"NorESM1M","r":"RCP8.5","c":"fCO2","t":2040,"v":53.7},{"m":"NorESM1M","r":"RCP8.5","c":"fCO2","t":2045,"v":53.9},{"m":"NorESM1M","r":"RCP8.5","c":"fCO2","t":2050,"v":53.5},{"m":"NorESM1M","r":"RCP8.5","c":"fCO2","t":2055,"v":53.0},{"m":"NorESM1M","r":"RCP8.5","c":"fCO2","t":2060,"v":52.8},{"m":"NorESM1M","r":"RCP8.5","c":"fCO2","t":2065,"v":52.2},{"m":"NorESM1M","r":"RCP8.5","c":"fCO2","t":2070,"v":51.7},{"m":"NorESM1M","r":"RCP8.5","c":"fCO2","t":2075,"v":50.7},{"m":"NorESM1M","r":"RCP8.5","c":"fCO2","t":2080,"v":49.6},{"m":"NorESM1M","r":"RCP8.5","c":"fCO2","t":2085,"v":48.0},{"m":"NorESM1M","r":"RCP8.5","c":"fCO2","t":2090,"v":47.2},{"m":"NorESM1M","r":"RCP8.5","c":"fCO2","t":2095,"v":46.2},{"m":"NorESM1M","r":"RCP8.5","c":"fCO2","t":2099,"v":45.5},
{"m":"mean","r":"RCP8.5","c":"fCO2","t":2000,"v":50.9},{"m":"mean","r":"RCP8.5","c":"fCO2","t":2005,"v":51.9},{"m":"mean","r":"RCP8.5","c":"fCO2","t":2010,"v":52.8},{"m":"mean","r":"RCP8.5","c":"fCO2","t":2015,"v":53.7},{"m":"mean","r":"RCP8.5","c":"fCO2","t":2020,"v":54.0},{"m":"mean","r":"RCP8.5","c":"fCO2","t":2025,"v":54.0},{"m":"mean","r":"RCP8.5","c":"fCO2","t":2030,"v":54.0},{"m":"mean","r":"RCP8.5","c":"fCO2","t":2035,"v":54.0},{"m":"mean","r":"RCP8.5","c":"fCO2","t":2040,"v":54.0},{"m":"mean","r":"RCP8.5","c":"fCO2","t":2045,"v":53.9},{"m":"mean","r":"RCP8.5","c":"fCO2","t":2050,"v":53.6},{"m":"mean","r":"RCP8.5","c":"fCO2","t":2055,"v":52.8},{"m":"mean","r":"RCP8.5","c":"fCO2","t":2060,"v":52.3},{"m":"mean","r":"RCP8.5","c":"fCO2","t":2065,"v":51.2},{"m":"mean","r":"RCP8.5","c":"fCO2","t":2070,"v":50.5},{"m":"mean","r":"RCP8.5","c":"fCO2","t":2075,"v":49.7},{"m":"mean","r":"RCP8.5","c":"fCO2","t":2080,"v":48.9},{"m":"mean","r":"RCP8.5","c":"fCO2","t":2085,"v":47.6},{"m":"mean","r":"RCP8.5","c":"fCO2","t":2090,"v":46.6},{"m":"mean","r":"RCP8.5","c":"fCO2","t":2095,"v":45.9},{"m":"mean","r":"RCP8.5","c":"fCO2","t":2099,"v":45.5}
]},
"transform":[{"calculate":"datum.r + ', ' + datum.c","as":"s"}],
"facet":{
 "row":{"field":"c","type":"nominal","sort":["eCO2","fCO2"],"title":"Pg C","header":{"labelOrient":"right","titleOrient":"left","labelAngle":90,"labelPadding":5,"titlePadding":-1}},
 "column":{"field":"r","type":"nominal","sort":["RCP4.5","RCP8.5"],"title":"Time","header":{"labelOrient":"top","titleOrient":"bottom","labelPadding":5,"titlePadding":-5}}
},
"spacing":{"row":5,"column":10},
"spec":{
 "width":450,"height":349,
 "encoding":{
  "x":{"field":"t","type":"quantitative","scale":{"domain":[1995.05,2103.95],"nice":false,"zero":false},"axis":{"values":[2000,2025,2050,2075,2100],"format":"d","title":null}},
  "y":{"field":"v","type":"quantitative","scale":{"domain":[36.1,94.7],"nice":false,"zero":false},"axis":{"values":[40,50,60,70,80,90],"title":null}},
  "color":{"field":"m","type":"nominal","title":"Model","scale":{"domain":["ACCESS","CCSM4","CNRM","GFDL","MPI","NorESM1M","mean"],"range":["#E69F00","#56B4E9","#009E73","#0072B2","#F0E442","#D55E00","#000000"]},"legend":{"orient":"none","legendX":977,"legendY":326}},
  "strokeDash":{"field":"s","type":"nominal","title":"Scenario","scale":{"domain":["RCP4.5, eCO2","RCP4.5, fCO2","RCP8.5, eCO2","RCP8.5, fCO2"],"range":[[1,0],[6,6],[1.5,4.5,6,4.5],[1.5,4.5]]},"legend":{"orient":"none","legendX":977,"legendY":125,"symbolStrokeColor":"black"}}
 },
 "layer":[
  {"transform":[{"filter":"datum.m !== 'mean'"}],"mark":{"type":"line","strokeWidth":1.7}},
  {"transform":[{"filter":"datum.m === 'mean'"}],"mark":{"type":"line","strokeWidth":2.4}}
 ]
},
"config":{
 "font":"Liberation Sans",
 "view":{"stroke":null},
 "axis":{"grid":false,"domainColor":"#000000","domainWidth":1.2,"tickColor":"#333333","tickSize":4.5,"tickWidth":1.1,"labelColor":"#4d4d4d","labelFontSize":15,"labelPadding":3},
 "header":{"labelFontSize":18,"labelFontWeight":"bold","labelColor":"#1a1a1a","titleFontSize":17.5,"titleFontWeight":"normal","titleColor":"#000000"},
 "legend":{"titleFontSize":19,"titleFontWeight":"normal","titleColor":"#000000","labelFontSize":15.5,"labelColor":"#1a1a1a","symbolStrokeWidth":2,"symbolSize":700,"rowPadding":9.6,"titlePadding":12,"labelOffset":14}
}
}
